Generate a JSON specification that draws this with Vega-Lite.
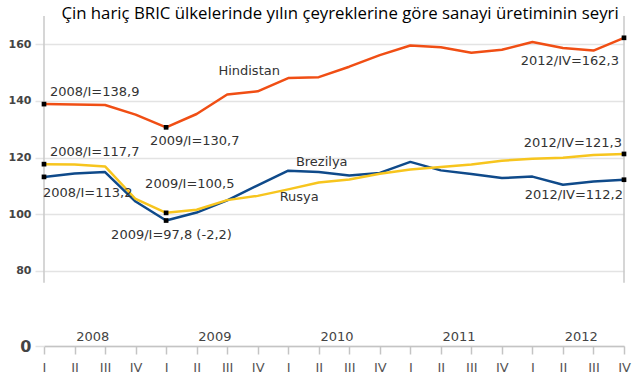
{
  "$schema": "https://vega.github.io/schema/vega-lite/v6.json",
  "width": 580,
  "height": 330,
  "autosize": "none",
  "padding": {"left": 44, "top": 16, "right": 16, "bottom": 41},
  "background": "white",
  "config": {
    "view": {"stroke": null},
    "axisX": {"grid": false, "domainColor": "#c4c4c4", "domainWidth": 1.5, "tickColor": "#c4c4c4", "tickWidth": 1.5, "tickSize": 8, "labelPadding": 7, "labelFont": "DejaVu Sans", "labelFontSize": 13, "labelColor": "#555", "labelFlush": false},
    "axisY": {"domain": false, "grid": true, "gridColor": "#e3e3e3", "gridWidth": 1.5, "tickColor": "#e3e3e3", "tickWidth": 1.5, "tickSize": 9, "labelPadding": 4, "labelFont": "DejaVu Sans", "labelFontWeight": "bold", "labelColor": "#444"}
  },
  "title": {"text": "Çin hariç BRIC ülkelerinde yılın çeyreklerine göre sanayi üretiminin seyri", "font": "Open Sans", "fontSize": 16.8, "fontWeight": "normal", "color": "#000", "anchor": "middle", "frame": "group", "baseline": "alphabetic", "offset": -6.5, "dx": 6, "dy": 14.5},
  "data": {"values": [
    {"series": "Hindistan", "year": 2008, "quarter": "I", "t": 0, "value": 138.9},
    {"series": "Hindistan", "year": 2008, "quarter": "II", "t": 1, "value": 138.8},
    {"series": "Hindistan", "year": 2008, "quarter": "III", "t": 2, "value": 138.6},
    {"series": "Hindistan", "year": 2008, "quarter": "IV", "t": 3, "value": 135.2},
    {"series": "Hindistan", "year": 2009, "quarter": "I", "t": 4, "value": 130.7},
    {"series": "Hindistan", "year": 2009, "quarter": "II", "t": 5, "value": 135.4},
    {"series": "Hindistan", "year": 2009, "quarter": "III", "t": 6, "value": 142.3},
    {"series": "Hindistan", "year": 2009, "quarter": "IV", "t": 7, "value": 143.4},
    {"series": "Hindistan", "year": 2010, "quarter": "I", "t": 8, "value": 148.1},
    {"series": "Hindistan", "year": 2010, "quarter": "II", "t": 9, "value": 148.4},
    {"series": "Hindistan", "year": 2010, "quarter": "III", "t": 10, "value": 152.1},
    {"series": "Hindistan", "year": 2010, "quarter": "IV", "t": 11, "value": 156.2},
    {"series": "Hindistan", "year": 2011, "quarter": "I", "t": 12, "value": 159.6},
    {"series": "Hindistan", "year": 2011, "quarter": "II", "t": 13, "value": 159.0},
    {"series": "Hindistan", "year": 2011, "quarter": "III", "t": 14, "value": 157.0},
    {"series": "Hindistan", "year": 2011, "quarter": "IV", "t": 15, "value": 158.1},
    {"series": "Hindistan", "year": 2012, "quarter": "I", "t": 16, "value": 160.8},
    {"series": "Hindistan", "year": 2012, "quarter": "II", "t": 17, "value": 158.7},
    {"series": "Hindistan", "year": 2012, "quarter": "III", "t": 18, "value": 157.8},
    {"series": "Hindistan", "year": 2012, "quarter": "IV", "t": 19, "value": 162.3},
    {"series": "Brezilya", "year": 2008, "quarter": "I", "t": 0, "value": 113.2},
    {"series": "Brezilya", "year": 2008, "quarter": "II", "t": 1, "value": 114.4},
    {"series": "Brezilya", "year": 2008, "quarter": "III", "t": 2, "value": 114.9},
    {"series": "Brezilya", "year": 2008, "quarter": "IV", "t": 3, "value": 104.5},
    {"series": "Brezilya", "year": 2009, "quarter": "I", "t": 4, "value": 97.8},
    {"series": "Brezilya", "year": 2009, "quarter": "II", "t": 5, "value": 100.6},
    {"series": "Brezilya", "year": 2009, "quarter": "III", "t": 6, "value": 104.9},
    {"series": "Brezilya", "year": 2009, "quarter": "IV", "t": 7, "value": 110.2},
    {"series": "Brezilya", "year": 2010, "quarter": "I", "t": 8, "value": 115.4},
    {"series": "Brezilya", "year": 2010, "quarter": "II", "t": 9, "value": 114.9},
    {"series": "Brezilya", "year": 2010, "quarter": "III", "t": 10, "value": 113.7},
    {"series": "Brezilya", "year": 2010, "quarter": "IV", "t": 11, "value": 114.6},
    {"series": "Brezilya", "year": 2011, "quarter": "I", "t": 12, "value": 118.5},
    {"series": "Brezilya", "year": 2011, "quarter": "II", "t": 13, "value": 115.5},
    {"series": "Brezilya", "year": 2011, "quarter": "III", "t": 14, "value": 114.2},
    {"series": "Brezilya", "year": 2011, "quarter": "IV", "t": 15, "value": 112.8},
    {"series": "Brezilya", "year": 2012, "quarter": "I", "t": 16, "value": 113.3},
    {"series": "Brezilya", "year": 2012, "quarter": "II", "t": 17, "value": 110.4},
    {"series": "Brezilya", "year": 2012, "quarter": "III", "t": 18, "value": 111.6},
    {"series": "Brezilya", "year": 2012, "quarter": "IV", "t": 19, "value": 112.2},
    {"series": "Rusya", "year": 2008, "quarter": "I", "t": 0, "value": 117.7},
    {"series": "Rusya", "year": 2008, "quarter": "II", "t": 1, "value": 117.6},
    {"series": "Rusya", "year": 2008, "quarter": "III", "t": 2, "value": 116.9},
    {"series": "Rusya", "year": 2008, "quarter": "IV", "t": 3, "value": 105.4},
    {"series": "Rusya", "year": 2009, "quarter": "I", "t": 4, "value": 100.5},
    {"series": "Rusya", "year": 2009, "quarter": "II", "t": 5, "value": 101.6},
    {"series": "Rusya", "year": 2009, "quarter": "III", "t": 6, "value": 105.0},
    {"series": "Rusya", "year": 2009, "quarter": "IV", "t": 7, "value": 106.5},
    {"series": "Rusya", "year": 2010, "quarter": "I", "t": 8, "value": 108.8},
    {"series": "Rusya", "year": 2010, "quarter": "II", "t": 9, "value": 111.2},
    {"series": "Rusya", "year": 2010, "quarter": "III", "t": 10, "value": 112.3},
    {"series": "Rusya", "year": 2010, "quarter": "IV", "t": 11, "value": 114.3},
    {"series": "Rusya", "year": 2011, "quarter": "I", "t": 12, "value": 115.8},
    {"series": "Rusya", "year": 2011, "quarter": "II", "t": 13, "value": 116.7},
    {"series": "Rusya", "year": 2011, "quarter": "III", "t": 14, "value": 117.6},
    {"series": "Rusya", "year": 2011, "quarter": "IV", "t": 15, "value": 118.9},
    {"series": "Rusya", "year": 2012, "quarter": "I", "t": 16, "value": 119.6},
    {"series": "Rusya", "year": 2012, "quarter": "II", "t": 17, "value": 120.0},
    {"series": "Rusya", "year": 2012, "quarter": "III", "t": 18, "value": 120.9},
    {"series": "Rusya", "year": 2012, "quarter": "IV", "t": 19, "value": 121.3}
  ]},
  "layer": [
    {"data": {"values": [{}]}, "mark": {"type": "rule", "color": "#c8c8c8", "strokeWidth": 1.5},
      "encoding": {
        "x": {"datum": 0, "type": "quantitative", "scale": {"domain": [0, 19], "nice": false, "zero": false}, "axis": {"title": null, "values": [0,1,2,3,4,5,6,7,8,9,10,11,12,13,14,15,16,17,18,19], "labelExpr": "['I','II','III','IV'][datum.value % 4]"}},
        "y": {"datum": 75.8, "type": "quantitative", "scale": {"domain": [53.5, 170], "nice": false, "zero": false}, "axis": {"title": null, "values": [53.5, 80, 100, 120, 140, 160], "labelExpr": "datum.value < 60 ? '0' : datum.label", "labelFontSize": {"condition": {"test": "datum.value < 60", "value": 16}, "value": 11}}},
        "y2": {"datum": 170}}},
    {"data": {"values": [{}]}, "mark": {"type": "rule", "color": "#c8c8c8", "strokeWidth": 1.5},
      "encoding": {
        "x": {"datum": 19, "type": "quantitative", "axis": {"title": null, "values": [0,1,2,3,4,5,6,7,8,9,10,11,12,13,14,15,16,17,18,19], "labelExpr": "['I','II','III','IV'][datum.value % 4]"}},
        "y": {"datum": 75.8, "type": "quantitative", "axis": {"title": null, "values": [53.5, 80, 100, 120, 140, 160], "labelExpr": "datum.value < 60 ? '0' : datum.label", "labelFontSize": {"condition": {"test": "datum.value < 60", "value": 16}, "value": 11}}},
        "y2": {"datum": 170}}},
    {"transform": [{"filter": "datum.series == 'Hindistan'"}, {"aggregate": [{"op": "mean", "field": "t", "as": "mid"}], "groupby": ["year"]}],
      "mark": {"type": "text", "font": "DejaVu Sans", "fontSize": 13, "color": "#444", "dx": 3, "dy": -9, "baseline": "middle", "align": "center"},
      "encoding": {
        "x": {"field": "mid", "type": "quantitative", "axis": {"title": null, "values": [0,1,2,3,4,5,6,7,8,9,10,11,12,13,14,15,16,17,18,19], "labelExpr": "['I','II','III','IV'][datum.value % 4]"}},
        "y": {"datum": 53.5, "type": "quantitative", "axis": {"title": null, "values": [53.5, 80, 100, 120, 140, 160], "labelExpr": "datum.value < 60 ? '0' : datum.label", "labelFontSize": {"condition": {"test": "datum.value < 60", "value": 16}, "value": 11}}},
        "text": {"field": "year", "type": "nominal"}}},
    {"encoding": {
        "x": {"field": "t", "type": "quantitative", "axis": {"title": null, "values": [0,1,2,3,4,5,6,7,8,9,10,11,12,13,14,15,16,17,18,19], "labelExpr": "['I','II','III','IV'][datum.value % 4]"}},
        "y": {"field": "value", "type": "quantitative", "axis": {"title": null, "values": [53.5, 80, 100, 120, 140, 160], "labelExpr": "datum.value < 60 ? '0' : datum.label", "labelFontSize": {"condition": {"test": "datum.value < 60", "value": 16}, "value": 11}}}
      },
      "layer": [
        {"mark": {"type": "line", "strokeWidth": 2.5, "strokeJoin": "round"},
          "encoding": {
            "color": {"field": "series", "type": "nominal", "scale": {"domain": ["Rusya", "Brezilya", "Hindistan"], "range": ["#f7c51e", "#0f4a8a", "#f04e14"]}, "legend": null},
            "order": {"field": "t"}}},
        {"transform": [{"filter": "datum.t == 0 || datum.t == 4 || datum.t == 19"}],
          "mark": {"type": "point", "shape": "square", "filled": true, "color": "#000", "size": 22, "opacity": 1}},
        {"transform": [{"filter": "datum.series == 'Hindistan' && datum.t == 0"}], "mark": {"type": "text", "text": "2008/I=138,9", "font": "DejaVu Sans", "fontSize": 13, "color": "#333", "align": "left", "baseline": "middle", "dx": 6, "dy": -12}},
        {"transform": [{"filter": "datum.series == 'Hindistan' && datum.t == 4"}], "mark": {"type": "text", "text": "2009/I=130,7", "font": "DejaVu Sans", "fontSize": 13, "color": "#333", "align": "left", "baseline": "middle", "dx": -16, "dy": 14}},
        {"transform": [{"filter": "datum.series == 'Rusya' && datum.t == 0"}], "mark": {"type": "text", "text": "2008/I=117,7", "font": "DejaVu Sans", "fontSize": 13, "color": "#333", "align": "left", "baseline": "middle", "dx": 6, "dy": -12}},
        {"transform": [{"filter": "datum.series == 'Brezilya' && datum.t == 0"}], "mark": {"type": "text", "text": "2008/I=113,2", "font": "DejaVu Sans", "fontSize": 13, "color": "#333", "align": "left", "baseline": "middle", "dx": -1, "dy": 16}},
        {"transform": [{"filter": "datum.series == 'Rusya' && datum.t == 4"}], "mark": {"type": "text", "text": "2009/I=100,5", "font": "DejaVu Sans", "fontSize": 13, "color": "#333", "align": "left", "baseline": "middle", "dx": -21, "dy": -29}},
        {"transform": [{"filter": "datum.series == 'Brezilya' && datum.t == 4"}], "mark": {"type": "text", "text": "2009/I=97,8 (-2,2)", "font": "DejaVu Sans", "fontSize": 13, "color": "#333", "align": "left", "baseline": "middle", "dx": -55, "dy": 14}},
        {"transform": [{"filter": "datum.series == 'Hindistan' && datum.t == 19"}], "mark": {"type": "text", "text": "2012/IV=162,3", "font": "DejaVu Sans", "fontSize": 13, "color": "#333", "align": "right", "baseline": "middle", "dx": -5, "dy": 23}},
        {"transform": [{"filter": "datum.series == 'Rusya' && datum.t == 19"}], "mark": {"type": "text", "text": "2012/IV=121,3", "font": "DejaVu Sans", "fontSize": 13, "color": "#333", "align": "right", "baseline": "middle", "dx": -2, "dy": -11}},
        {"transform": [{"filter": "datum.series == 'Brezilya' && datum.t == 19"}], "mark": {"type": "text", "text": "2012/IV=112,2", "font": "DejaVu Sans", "fontSize": 13, "color": "#333", "align": "right", "baseline": "middle", "dx": -1, "dy": 15}},
        {"transform": [{"filter": "datum.series == 'Hindistan' && datum.t == 6"}], "mark": {"type": "text", "text": "Hindistan", "font": "DejaVu Sans", "fontSize": 13, "color": "#333", "align": "center", "baseline": "middle", "dx": 22, "dy": -23}},
        {"transform": [{"filter": "datum.series == 'Brezilya' && datum.t == 9"}], "mark": {"type": "text", "text": "Brezilya", "font": "DejaVu Sans", "fontSize": 13, "color": "#333", "align": "center", "baseline": "middle", "dx": 3, "dy": -10}},
        {"transform": [{"filter": "datum.series == 'Rusya' && datum.t == 8"}], "mark": {"type": "text", "text": "Rusya", "font": "DejaVu Sans", "fontSize": 13, "color": "#333", "align": "center", "baseline": "middle", "dx": 11, "dy": 8}}
      ]}
  ]
}
